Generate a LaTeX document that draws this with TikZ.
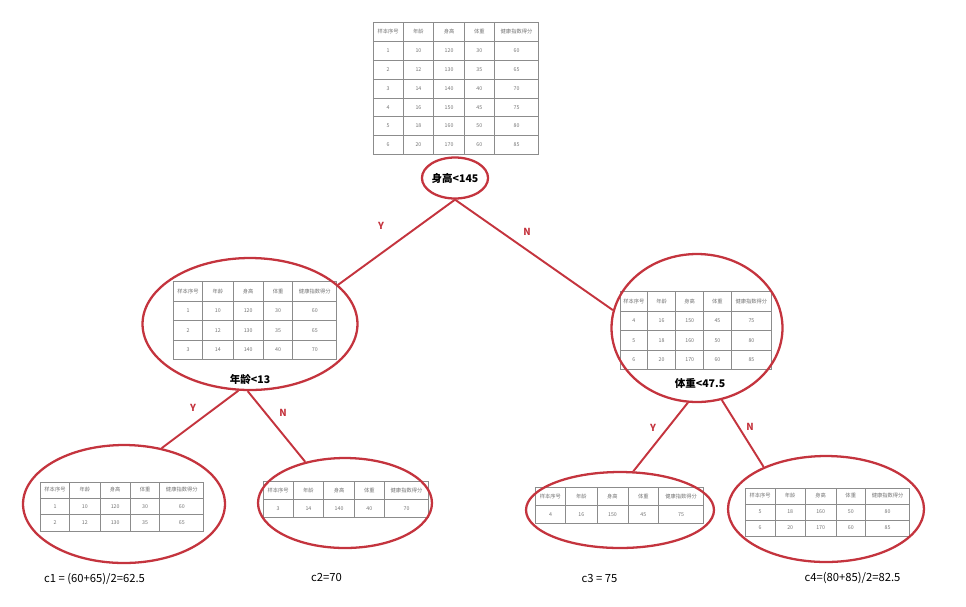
\documentclass[tikz,border=0pt]{standalone}
\usepackage{fontspec}
\setmainfont{Noto Sans CJK SC}
\usepackage{array,colortbl}
\usetikzlibrary{shapes.geometric}

\definecolor{tred}{RGB}{196,52,62}
\newlength\tw
\newlength\rh
\newcolumntype{C}[1]{>{\centering\arraybackslash\rule[-.4\rh]{0pt}{\rh}}p{#1}}
\arrayrulecolor{black!45}
\newcommand{\dtab}[3]{%
  \setlength{\tw}{#1}\setlength{\rh}{#2}%
  \fontsize{3}{3.6}\selectfont\setlength{\tabcolsep}{0pt}%
  \begin{tabular}{|C{.18\tw}|C{.185\tw}|C{.185\tw}|C{.18\tw}|C{.27\tw}|}\hline
  样本序号&年龄&身高&体重&健康指数得分\\\hline
  #3
  \end{tabular}}
\newcommand{\rowA}{1&10&120&30&60\\\hline}
\newcommand{\rowB}{2&12&130&35&65\\\hline}
\newcommand{\rowC}{3&14&140&40&70\\\hline}
\newcommand{\rowD}{4&16&150&45&75\\\hline}
\newcommand{\rowE}{5&18&160&50&80\\\hline}
\newcommand{\rowF}{6&20&170&60&85\\\hline}

\begin{document}
\begin{tikzpicture}[x=0.02cm,y=-0.02cm]
\useasboundingbox (0,0) rectangle (966,606);

% tables
\begin{scope}[every node/.style={inner sep=0pt,text=black!55}]
    \node (t0) at (456,88.5) {\dtab{3.24cm}{0.362cm}{\rowA\rowB\rowC\rowD\rowE\rowF}};
    \node (t1) at (255,320.5) {\dtab{3.2cm}{0.375cm}{\rowA\rowB\rowC}};
    \node (t2) at (696,330.5) {\dtab{2.96cm}{0.375cm}{\rowD\rowE\rowF}};
    \node (t3) at (122,506.5) {\dtab{3.2cm}{0.314cm}{\rowA\rowB}};
    \node (t4) at (346,499.5) {\dtab{3.24cm}{0.35cm}{\rowC}};
    \node (t5) at (619.5,505.5) {\dtab{3.3cm}{0.35cm}{\rowD}};
    \node (t6) at (827.5,512) {\dtab{3.22cm}{0.306cm}{\rowE\rowF}};
\end{scope}

% ellipses
\begin{scope}[every node/.style={ellipse,draw=tred,line width=1.3pt,inner sep=0pt,
              font=\bfseries\fontsize{6}{7}\selectfont}]
    \node[minimum width=1.24cm,minimum height=0.82cm] (v0) at (455,178) {身高<145};
    \node[minimum width=4.3cm,minimum height=2.64cm] (v1) at (250,324) {};
    \node[minimum width=3.42cm,minimum height=2.96cm] (v2) at (697,328) {};
    \node[minimum width=4.04cm,minimum height=2.36cm] (v3) at (124,504) {};
    \node[minimum width=3.48cm,minimum height=1.8cm] (v4) at (345,503) {};
    \node[minimum width=3.76cm,minimum height=1.52cm] (v5) at (620,510) {};
    \node[minimum width=3.92cm,minimum height=2.12cm] (v6) at (826,509) {};
\end{scope}

\node[font=\bfseries\fontsize{6}{7}\selectfont] (l1) at (250,380) {年龄<13};
\node[font=\bfseries\fontsize{6}{7}\selectfont] (l2) at (700,383) {体重<47.5};

\begin{scope}[every edge/.style={draw=tred,line width=1.1pt}]
    \path (v0.south) edge (v1.24);
    \path (v0.south) edge (v2.168);
    \path (v1.260) edge (v3.56);
    \path (v1.268) edge (v4.134);
    \path (v2.263) edge (v5.71);
    \path (v2.289) edge (v6.146);
\end{scope}

% branch labels
\begin{scope}[every node/.style={text=tred,font=\bfseries\fontsize{5.5}{6}\selectfont}]
    \node (y0) at (381,226) {Y};
    \node (n0) at (527,232) {N};
    \node (y1) at (193,408) {Y};
    \node (n1) at (283,413) {N};
    \node (y2) at (653,428) {Y};
    \node (n2) at (750,427) {N};
\end{scope}

% leaf values
\begin{scope}[every node/.style={font=\fontsize{6.4}{7.5}\selectfont}]
    \node (c1) at (94.5,579) {c1 = (60+65)/2=62.5};
    \node (c2) at (326.5,577) {c2=70};
    \node (c3) at (599.5,578) {c3 = 75};
    \node (c4) at (852.5,578) {c4=(80+85)/2=82.5};
\end{scope}
\end{tikzpicture}
\end{document}
